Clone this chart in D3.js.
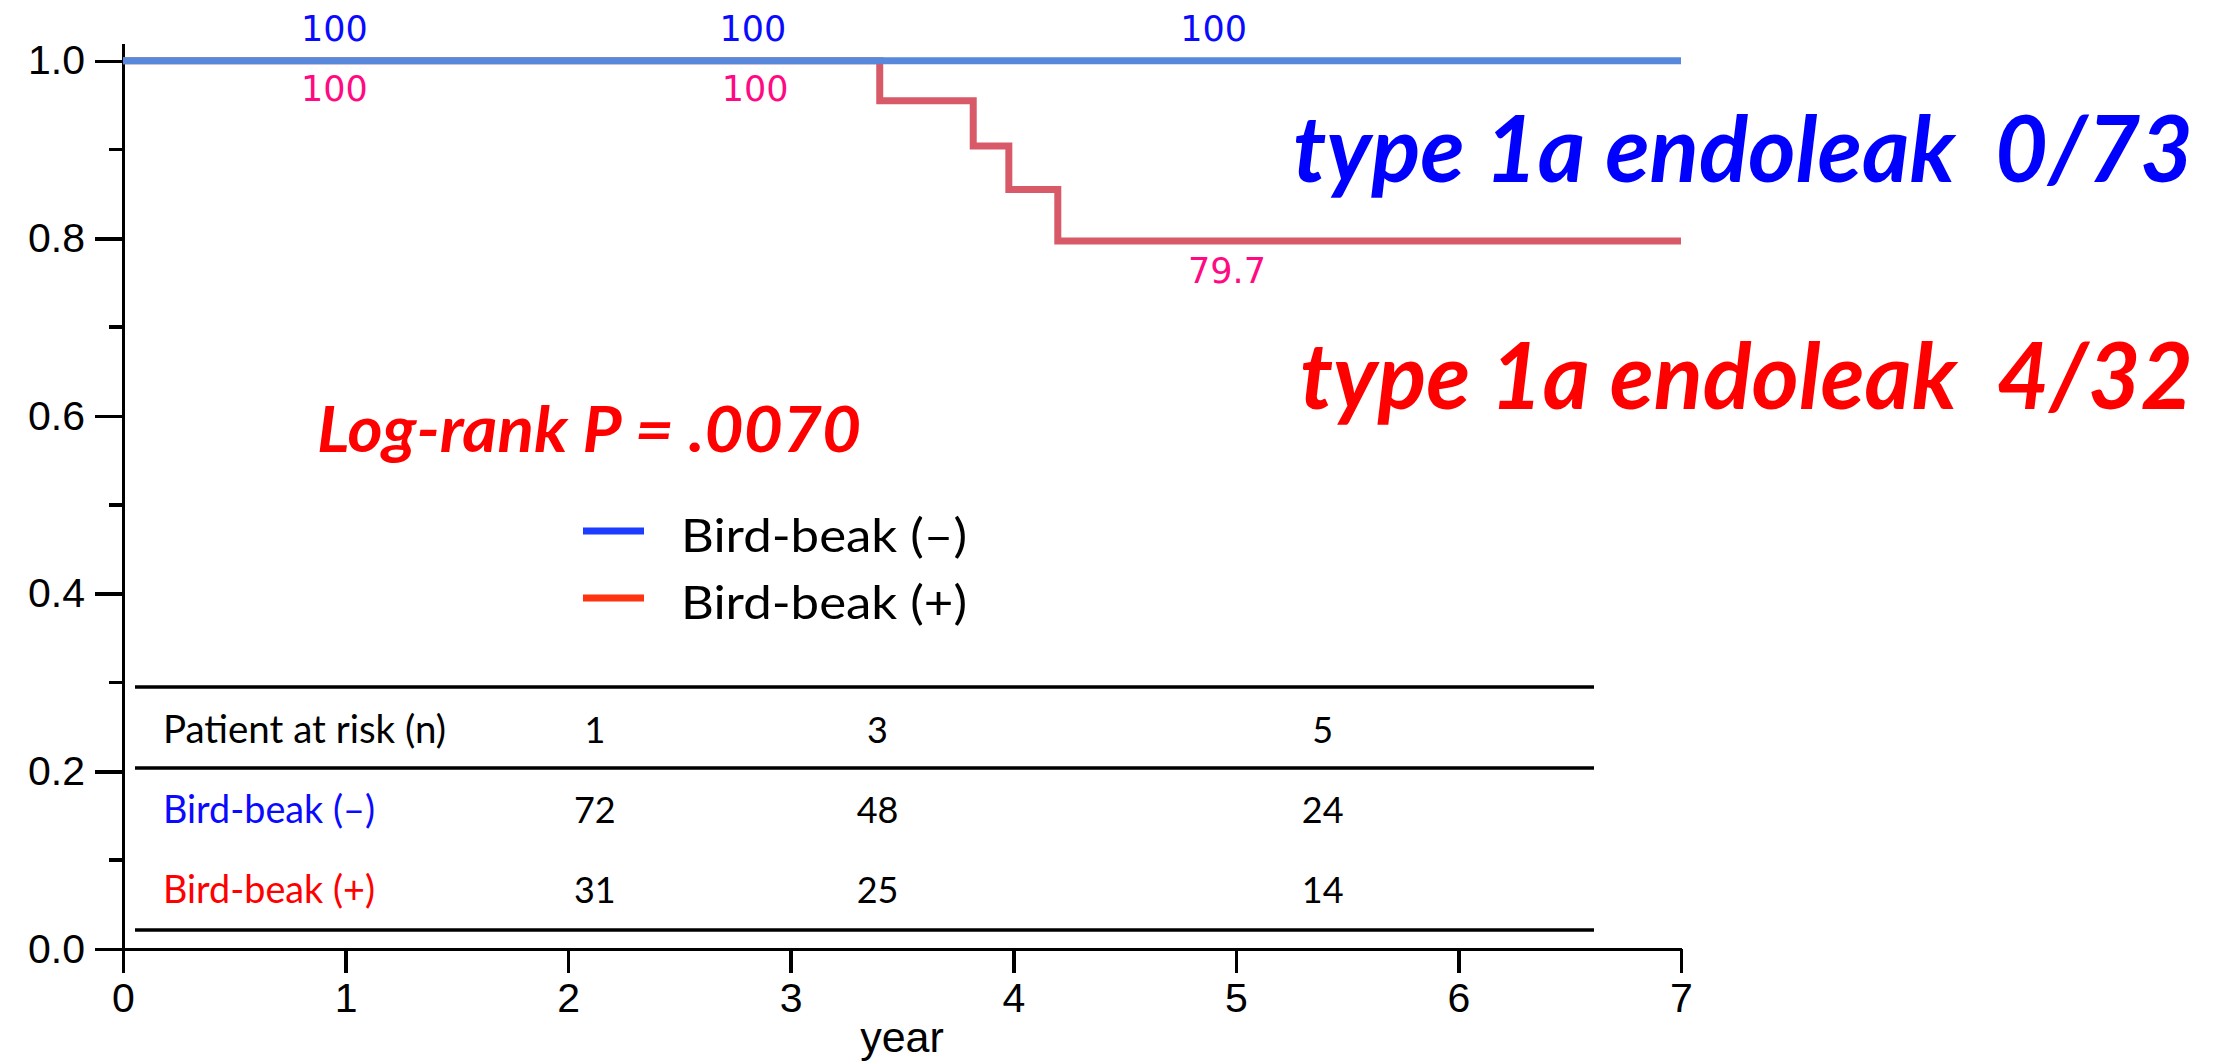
<!DOCTYPE html>
<html>
<head>
<meta charset="utf-8">
<script src="https://cdn.jsdelivr.net/npm/d3@7"></script>
<style>
    body { margin: 0; background: #fff; }
    svg { display: block; }
    .axis path, .axis line { stroke: #000; stroke-width: 3.5; shape-rendering: crispEdges; }
    .axis text { font-family: "Liberation Sans", Arial, sans-serif; font-size: 41px; fill: #000; }
    .pre { white-space: pre; }
</style>
</head>
<body>
<div class="chart"></div>
<script>
// ----------------------------------------------
// Kaplan-Meier: freedom from type 1a endoleak, bird-beak (-) vs (+)
// ----------------------------------------------

// data
var YEAR_TICKS = [0, 1, 2, 3, 4, 5, 6, 7];
var SURV_TICKS = [0.0, 0.2, 0.4, 0.6, 0.8, 1.0];
var SURV_MINOR = [0.1, 0.3, 0.5, 0.7, 0.9];

var blueTimes = [0, 7];
var blueSurv  = [1.0, 1.0];
var redTimes  = [0, 3.40, 3.82, 3.98, 4.20, 7];
var redSurv   = [1.0, 0.955, 0.904, 0.855, 0.797, 0.797];

var blueLabelYears = [0.95, 2.83, 4.90];
var blueLabelTexts = ["100", "100", "100"];
var redLabelYears  = [0.95, 2.84, 4.96];
var redLabelTexts  = ["100", "100", "79.7"];
var redLabelSurv   = [1.0, 1.0, 0.797];

var riskYears  = [2.12, 3.39, 5.39];
var riskHeader = ["1", "3", "5"];
var riskBlue   = ["72", "48", "24"];
var riskRed    = ["31", "25", "14"];

var legendNames = ["Bird-beak (\u2013)", "Bird-beak (+)"];


//constants
var WIDTH = 2230, HEIGHT = 1062;
var CURVE_BLUE = "#5888dc", CURVE_RED = "#d85a69";
var PINK = "#ff0a82";
var BIG_FONT = "Lato, 'Open Sans', sans-serif";
var LABEL_FONT = "'DejaVu Sans', Verdana, sans-serif";

var svg = d3.select(".chart")
    .append("svg")
    .attr("width", WIDTH)
    .attr("height", HEIGHT);

var x = d3.scaleLinear().domain([0, 7]).range([123, 1681]);
var y = d3.scaleLinear().domain([0, 1.02]).range([949, 43]);


// axes
var yAxis = svg.append("g")
    .attr("class", "axis")
    .attr("transform", "translate(" + x(0) + ",0)")
    .call(d3.axisLeft(y).tickValues(SURV_TICKS).tickFormat(d3.format(".1f"))
        .tickSize(28).tickSizeOuter(0).tickPadding(10));

svg.append("g")
    .attr("class", "axis minor")
    .attr("transform", "translate(" + x(0) + ",0)")
    .selectAll("line")
    .data(SURV_MINOR)
  .enter().append("line")
    .attr("x1", -14).attr("x2", 0)
    .attr("y1", function(d){ return y(d); })
    .attr("y2", function(d){ return y(d); });

var xAxis = svg.append("g")
    .attr("class", "axis")
    .attr("transform", "translate(0," + y(0) + ")")
    .call(d3.axisBottom(x).tickValues(YEAR_TICKS).tickFormat(d3.format("d"))
        .tickSize(24).tickSizeOuter(0).tickPadding(10));

svg.append("text")
    .attr("x", (x(0) + x(7)) / 2)
    .attr("y", 1052)
    .attr("text-anchor", "middle")
    .style("font-family", "'Liberation Sans', Arial, sans-serif")
    .style("font-size", "43px")
    .text("year");


// survival curves (red first, blue sits on top at 1.0)
var line = d3.line()
    .x(function(d){ return x(d[0]); })
    .y(function(d){ return y(d[1]); })
    .curve(d3.curveStepAfter);

svg.append("path")
    .datum(d3.zip(redTimes, redSurv))
    .attr("d", line)
    .attr("fill", "none")
    .attr("stroke", CURVE_RED)
    .attr("stroke-width", 7);

svg.append("path")
    .datum(d3.zip(blueTimes, blueSurv))
    .attr("d", line)
    .attr("fill", "none")
    .attr("stroke", CURVE_BLUE)
    .attr("stroke-width", 7);


// survival rate labels
svg.selectAll(".blueLab")
    .data(blueLabelYears)
  .enter().append("text")
    .attr("class", "blueLab")
    .attr("x", function(d){ return x(d); })
    .attr("y", y(1.0) - 20)
    .attr("text-anchor", "middle")
    .style("font-family", LABEL_FONT)
    .style("font-size", "35px")
    .style("fill", "#0a0aff")
    .text(function(d, i){ return blueLabelTexts[i]; });

svg.selectAll(".redLab")
    .data(redLabelYears)
  .enter().append("text")
    .attr("class", "redLab")
    .attr("x", function(d){ return x(d); })
    .attr("y", function(d, i){ return y(redLabelSurv[i]) + (i < 2 ? 40 : 42); })
    .attr("text-anchor", "middle")
    .style("font-family", LABEL_FONT)
    .style("font-size", "35px")
    .style("fill", PINK)
    .text(function(d, i){ return redLabelTexts[i]; });


// big annotations - font kept a bit small so the natural width fits, textLength does the rest
svg.append("text")
    .attr("class", "pre")
    .attr("x", 1293).attr("y", 182)
    .attr("textLength", 900).attr("lengthAdjust", "spacingAndGlyphs")
    .style("font-family", BIG_FONT)
    .style("font-size", "91px").style("font-weight", "bold").style("font-style", "italic")
    .style("fill", "#0000ff")
    .text("type 1a endoleak  0/73");

svg.append("text")
    .attr("class", "pre")
    .attr("x", 1300).attr("y", 409)
    .attr("textLength", 893).attr("lengthAdjust", "spacingAndGlyphs")
    .style("font-family", BIG_FONT)
    .style("font-size", "91px").style("font-weight", "bold").style("font-style", "italic")
    .style("fill", "#ff0000")
    .text("type 1a endoleak  4/32");

svg.append("text")
    .attr("x", 317).attr("y", 452)
    .attr("textLength", 544).attr("lengthAdjust", "spacingAndGlyphs")
    .style("font-family", BIG_FONT)
    .style("font-size", "64px").style("font-weight", "bold").style("font-style", "italic")
    .style("fill", "#ff0000")
    .text("Log-rank P = .0070");


// legend
var legend = svg.append("g").attr("class", "legend");
var LEGEND_COLORS = ["#1c3dff", "#ff3310"];
var LEGEND_Y = [531, 598];

legend.selectAll("line")
    .data(legendNames)
  .enter().append("line")
    .attr("x1", 583).attr("x2", 644)
    .attr("y1", function(d, i){ return LEGEND_Y[i]; })
    .attr("y2", function(d, i){ return LEGEND_Y[i]; })
    .attr("stroke", function(d, i){ return LEGEND_COLORS[i]; })
    .attr("stroke-width", 7);

legend.selectAll("text")
    .data(legendNames)
  .enter().append("text")
    .attr("x", 681)
    .attr("y", function(d, i){ return LEGEND_Y[i] + 21; })
    .attr("textLength", 286).attr("lengthAdjust", "spacingAndGlyphs")
    .style("font-family", BIG_FONT)
    .style("font-size", "47px")
    .text(function(d){ return d; });


// patients-at-risk table
var TABLE_X0 = 135, TABLE_X1 = 1594;
var TABLE_LINES = [687, 768, 930];
var ROW_BASE = [743, 823, 903];
var ROW_LABELS = ["Patient at risk (n)", legendNames[0], legendNames[1]];
var ROW_LABEL_W = [283, 212, 212];
var ROW_COLORS = ["#000", "#0a0aff", "#ff0000"];
var ROW_VALUES = [riskHeader, riskBlue, riskRed];

var table = svg.append("g").attr("class", "risktable");

table.selectAll("line")
    .data(TABLE_LINES)
  .enter().append("line")
    .attr("x1", TABLE_X0).attr("x2", TABLE_X1)
    .attr("y1", function(d){ return d; })
    .attr("y2", function(d){ return d; })
    .attr("stroke", "#000")
    .attr("stroke-width", 3.5);

var rows = table.selectAll(".row")
    .data(ROW_LABELS)
  .enter().append("g")
    .attr("class", "row")
    .attr("transform", function(d, i){ return "translate(0," + ROW_BASE[i] + ")"; });

rows.append("text")
    .attr("x", 163)
    .attr("textLength", function(d, i){ return ROW_LABEL_W[i]; })
    .attr("lengthAdjust", "spacingAndGlyphs")
    .style("font-family", BIG_FONT)
    .style("font-size", "38px")
    .style("fill", function(d, i){ return ROW_COLORS[i]; })
    .text(function(d){ return d; });

rows.each(function(d, i){
    d3.select(this).selectAll(".val")
        .data(ROW_VALUES[i])
      .enter().append("text")
        .attr("class", "val")
        .attr("x", function(v, j){ return x(riskYears[j]); })
        .attr("text-anchor", "middle")
        .style("font-family", BIG_FONT)
        .style("font-size", "36px")
        .text(function(v){ return v; });
});
</script>
</body>
</html>
